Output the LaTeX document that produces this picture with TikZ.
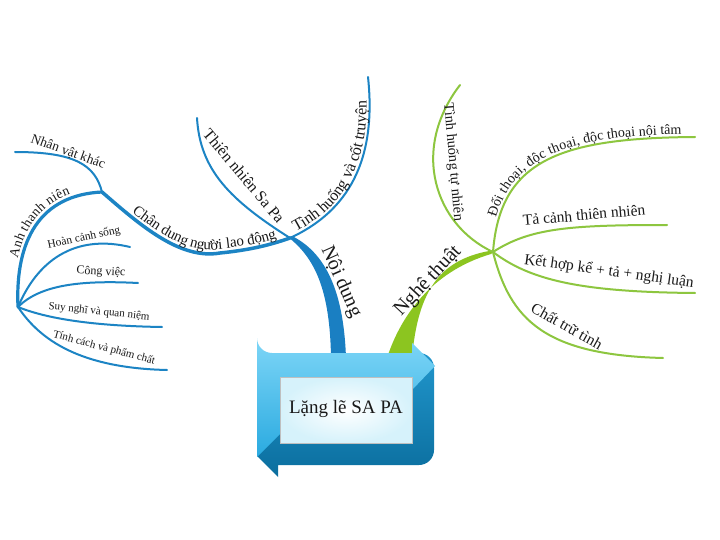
\documentclass[tikz,border=0pt]{standalone}
\usepackage{fontspec}
\setmainfont{Liberation Serif}
\usetikzlibrary{decorations.text}
\definecolor{bl}{HTML}{1C84C4}
\definecolor{blstem}{HTML}{1A7FC2}
\definecolor{gr}{HTML}{8DC63F}
\definecolor{grstem}{HTML}{8CC520}
\definecolor{tx}{HTML}{1A1A1A}
\definecolor{lighttop}{HTML}{7ED6F7}
\definecolor{lightbot}{HTML}{2AAAE0}
\definecolor{darktop}{HTML}{2196CC}
\definecolor{darkbot}{HTML}{0B6E9E}
\definecolor{innerc}{HTML}{D6F2FB}
\begin{document}
\begin{tikzpicture}[x=1pt,y=-1pt,
  bline/.style={draw=bl,line width=2pt,line cap=round},
  gline/.style={draw=gr,line width=2pt,line cap=round},
  along/.style n args={4}{postaction={decorate,decoration={text along path,raise=#2pt,text align={left indent=#3pt},text={|\color{tx}\fontsize{#1pt}{#1pt}\selectfont|#4}}}},
  lbl/.style={text=tx,inner sep=0pt,font=\fontsize{#1pt}{#1pt}\selectfont},
  big/.style={text=tx,font=\fontsize{20pt}{20pt}\selectfont,inner sep=0pt}]
\fill[white] (0,0) rectangle (720,540);
\useasboundingbox (0,0) rectangle (720,540);
% junctions and ends
\coordinate (J1) at (290,238);
\coordinate (N1) at (102,192);
\coordinate (N2) at (18,307);
\coordinate (J2) at (493,252);
\coordinate (tn) at (197,118);
\coordinate (th) at (368,77);
\coordinate (nv) at (15,152);
\coordinate (hc) at (130,247);
\coordinate (cv) at (138,283);
\coordinate (sn) at (162,327);
\coordinate (tc) at (167,370);
\coordinate (tt) at (460,85);
\coordinate (dt) at (695,137);
\coordinate (tct) at (667,225);
\coordinate (kh) at (695,293);
\coordinate (ct) at (663,358);
% stems
\fill[blstem] (288,237) .. controls (315,258) and (330,290) .. (331,358) -- (346,358) .. controls (344,300) and (330,255) .. (292,236) -- cycle;
\fill[grstem] (387,358) .. controls (400,318) and (430,272) .. (491,254) -- (495,250) .. controls (440,258) and (418,290) .. (412,358) -- cycle;
% blue branches
\draw[bline] (tn) .. controls (200,170) and (230,200) .. (J1);
\draw[bline,along={16}{3}{8}{Tình huống và cốt truyện}] (J1) .. controls (340,215) and (378,170) .. (th);
\draw[bline,line width=3.5pt,along={15}{4}{36}{Chân dung người lao động}] (N1) .. controls (140,225) and (180,260) .. (220,253) .. controls (250,250) and (270,245) .. (J1);
\draw[bline] (nv) .. controls (75,152) and (95,165) .. (N1);
\draw[bline,line width=3.2pt,along={13.5}{4}{48}{Anh thanh niên}] (N2) .. controls (15,240) and (40,195) .. (N1);
\draw[bline] (N2) .. controls (40,255) and (80,235) .. (hc);
\draw[bline] (N2) .. controls (40,285) and (80,280) .. (cv);
\draw[bline] (N2) .. controls (50,320) and (100,326) .. (sn);
\draw[bline] (N2) .. controls (40,340) and (80,368) .. (tc);
\node[lbl=16,rotate=-50] (lTN) at (244,176) {Thiên nhiên Sa Pa};
\node[lbl=13.5,rotate=-20] (lNV) at (68,152) {Nhân vật khác};
\node[lbl=11.5,rotate=12] (lHC) at (84,238) {Hoàn cảnh sống};
\node[lbl=12,rotate=-3] (lCV) at (101,272) {Công việc};
\node[lbl=11,rotate=-6] (lSN) at (99,312) {Suy nghĩ và quan niệm};
\node[lbl=11,rotate=-15] (lTC) at (104,348) {Tính cách và phẩm chất};
% green branches
\draw[gline] (tt) .. controls (410,150) and (435,225) .. (J2);
\draw[gline,along={14}{3}{34}{Đối thoại, độc thoại, độc thoại nội tâm}] (J2) .. controls (500,160) and (560,138) .. (dt);
\draw[gline] (J2) .. controls (530,228) and (570,225) .. (tct);
\draw[gline] (J2) .. controls (530,280) and (580,292) .. (kh);
\draw[gline] (J2) .. controls (510,320) and (545,355) .. (ct);
\node[lbl=14.5,rotate=-85] (lTT) at (453,162) {Tình huống tự nhiên};
\node[lbl=15.5,rotate=5] (lTCT) at (584,215) {Tả cảnh thiên nhiên};
\node[lbl=15.5,rotate=-8] (lKH) at (609,272) {Kết hợp kể + tả + nghị luận};
\node[lbl=15.5,rotate=-29] (lCT) at (567,326) {Chất trữ tình};
% stem labels
\node[big,rotate=-66] (nd) at (341,282) {Nội dung};
\node[big,rotate=47] (nt) at (428,281) {Nghệ thuật};
% central box
\shade[top color=darktop,bottom color=darkbot] (257,368) arc[start angle=180,end angle=270,radius=15] -- (419,353) arc[start angle=270,end angle=360,radius=15] -- (434,450) arc[start angle=0,end angle=90,radius=15] -- (278,465) -- (278,477) -- (257,456) -- (278,434) -- (257,434) -- cycle;
\shade[top color=lighttop,bottom color=lightbot] (257,457) -- (280,434) -- (280,390) -- (412,390) -- (435,366) -- (412,343) -- (412,353) -- (272,353) arc[start angle=90,end angle=180,radius=15] -- cycle;
\draw[draw=black!25,line width=1pt,inner color=white,outer color=innerc] (280,377) rectangle (412,443);
\node[text=tx,font=\fontsize{19pt}{19pt}\selectfont,inner sep=0pt] (title) at (346,409) {Lặng lẽ SA PA};
\end{tikzpicture}
\end{document}
